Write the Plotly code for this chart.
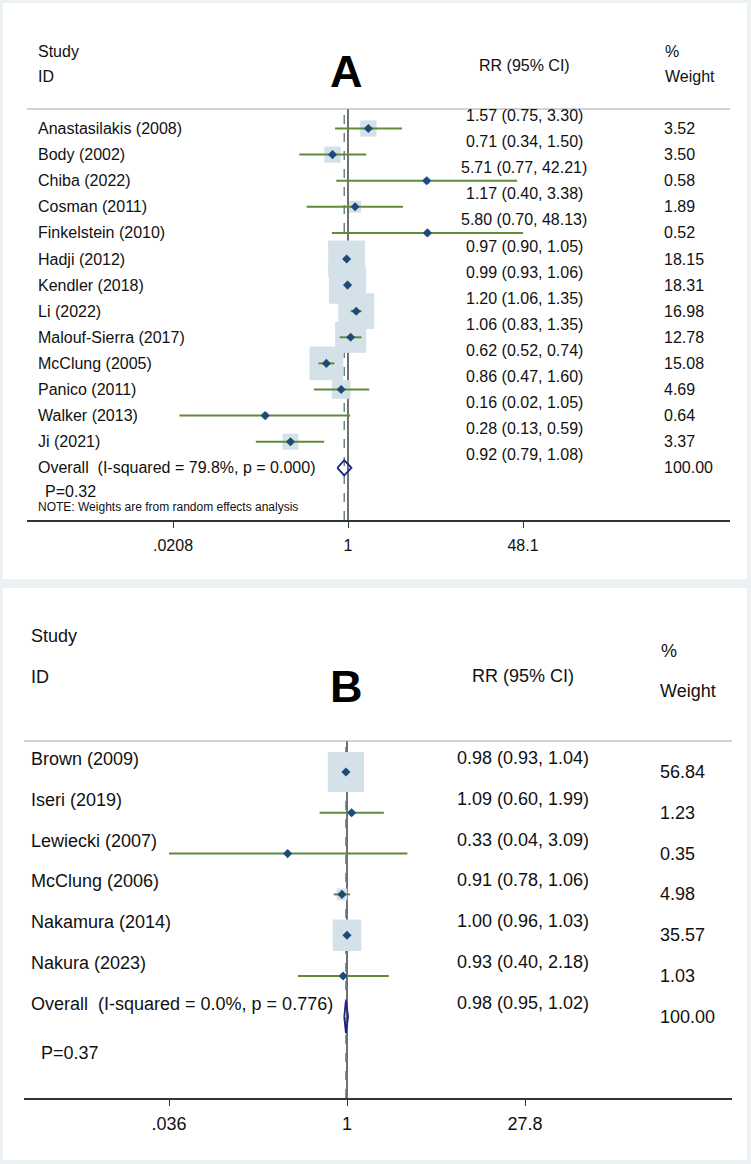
import math
import plotly.graph_objects as go

# ---------------- Data: panel A ----------------
studies_A = ["Anastasilakis (2008)", "Body (2002)", "Chiba (2022)", "Cosman (2011)",
             "Finkelstein (2010)", "Hadji (2012)", "Kendler (2018)", "Li (2022)",
             "Malouf-Sierra (2017)", "McClung (2005)", "Panico (2011)", "Walker (2013)",
             "Ji (2021)"]
rr_A = [1.57, 0.71, 5.71, 1.17, 5.80, 0.97, 0.99, 1.20, 1.06, 0.62, 0.86, 0.16, 0.28]
lo_A = [0.75, 0.34, 0.77, 0.40, 0.70, 0.90, 0.93, 1.06, 0.83, 0.52, 0.47, 0.024, 0.13]
hi_A = [3.30, 1.50, 42.21, 3.38, 48.13, 1.05, 1.06, 1.35, 1.35, 0.74, 1.60, 1.05, 0.59]
w_A = [3.52, 3.50, 0.58, 1.89, 0.52, 18.15, 18.31, 16.98, 12.78, 15.08, 4.69, 0.64, 3.37]
overall_label_A = "Overall  (I-squared = 79.8%, p = 0.000)"
overall_A = [0.92, 0.79, 1.08]
overall_w_A = 100.00
p_text_A = "P=0.32"
note_A = "NOTE: Weights are from random effects analysis"
tickvals_A = [0.0208, 1, 48.1]
ticktext_A = [".0208", "1", "48.1"]

# ---------------- Data: panel B ----------------
studies_B = ["Brown (2009)", "Iseri (2019)", "Lewiecki (2007)", "McClung (2006)",
             "Nakamura (2014)", "Nakura (2023)"]
rr_B = [0.98, 1.09, 0.33, 0.91, 1.00, 0.93]
lo_B = [0.93, 0.60, 0.036, 0.78, 0.96, 0.40]
hi_B = [1.04, 1.99, 3.09, 1.06, 1.03, 2.18]
w_B = [56.84, 1.23, 0.35, 4.98, 35.57, 1.03]
overall_label_B = "Overall  (I-squared = 0.0%, p = 0.776)"
overall_B = [0.98, 0.95, 1.02]
overall_w_B = 100.00
p_text_B = "P=0.37"
tickvals_B = [0.036, 1, 27.8]
ticktext_B = [".036", "1", "27.8"]

# ---------------- Styling / layout constants ----------------
W, H = 751, 1164
FONT = "Arial, Liberation Sans, sans-serif"
BOX_COLOR = "#d5e1e8"
PT_COLOR = "#1d4a78"
CI_COLOR = "#5e8c3a"
DIA_COLOR = "#1a237e"
DASH_COLOR = "#587e84"
BG = "#ecf2f4"


def px(x):
    return x / W


def py(y):
    return 1 - y / H


fig = go.Figure()
shapes = []
annotations = []

# panel backgrounds
shapes.append(dict(type="rect", xref="paper", yref="paper", x0=px(3), x1=px(747),
                   y0=py(579), y1=py(3), fillcolor="white", line=dict(width=0), layer="below"))
shapes.append(dict(type="rect", xref="paper", yref="paper", x0=px(3), x1=px(747),
                   y0=py(1160), y1=py(588), fillcolor="white", line=dict(width=0), layer="below"))


def build_panel(idx, studies, rr, lo, hi, w, ov, ov_w, ov_label, tickvals, ticktext,
                geom):
    xa = "x" if idx == 1 else "x2"
    ya = "y" if idx == 1 else "y2"
    fs = geom["fs"]
    n = len(studies)
    # pixels per log10 unit of the x axis
    ppl = (geom["px_one"] - geom["px_tlo"]) / (-math.log10(tickvals[0]))

    # null line at 1 and dashed overall line (data units)
    shapes.append(dict(type="line", xref=xa, yref=ya + " domain", x0=1, x1=1, y0=0, y1=1,
                       line=dict(color="#111111", width=1.2), layer="below"))
    shapes.append(dict(type="line", xref=xa, yref=ya + " domain",
                       x0=ov[0], x1=ov[0], y0=0, y1=1,
                       line=dict(color=DASH_COLOR, width=1.4, dash="dash"), layer="below"))
    # weight boxes: side proportional to sqrt(weight)
    for i in range(n):
        hw = geom["bw"] * math.sqrt(w[i]) / 2 / ppl
        hh = geom["bh"] * math.sqrt(w[i]) / 2
        shapes.append(dict(type="rect", xref=xa, yref=ya, ysizemode="pixel", yanchor=i,
                           x0=rr[i] * 10 ** (-hw), x1=rr[i] * 10 ** hw, y0=-hh, y1=hh,
                           fillcolor=BOX_COLOR, line=dict(width=0), layer="below"))
    # CI lines
    cx, cy = [], []
    for i in range(n):
        cx += [lo[i], hi[i], None]
        cy += [i, i, None]
    fig.add_trace(go.Scatter(x=cx, y=cy, mode="lines", xaxis=xa, yaxis=ya,
                             line=dict(color=CI_COLOR, width=2), hoverinfo="skip",
                             showlegend=False))
    # point estimates
    fig.add_trace(go.Scatter(x=rr, y=list(range(n)), mode="markers", xaxis=xa, yaxis=ya,
                             marker=dict(symbol="diamond", size=7, color=PT_COLOR),
                             showlegend=False))
    # overall diamond
    dh = geom["dh"]
    fig.add_trace(go.Scatter(x=[ov[1], ov[0], ov[2], ov[0], ov[1]],
                             y=[n, n - dh, n, n + dh, n], mode="lines", xaxis=xa, yaxis=ya,
                             line=dict(color=DIA_COLOR, width=1.8), showlegend=False))

    # text columns
    labels = studies + [ov_label]
    rr_txt = [f"{rr[i]:.2f} ({lo[i]:.2f}, {hi[i]:.2f})" for i in range(n)]
    rr_txt.append(f"{ov[0]:.2f} ({ov[1]:.2f}, {ov[2]:.2f})")
    w_txt = [f"{v:.2f}" for v in w] + [f"{ov_w:.2f}"]
    for i in range(n + 1):
        annotations.append(dict(xref="paper", yref=ya, x=px(geom["lab_x"]), y=i,
                                text=labels[i], showarrow=False, xanchor="left",
                                yanchor="middle", yshift=geom["lab_shift"],
                                font=dict(size=fs, color="#111111", family=FONT)))
        annotations.append(dict(xref="paper", yref=ya, x=px(geom["rr_x"]), y=i,
                                text=rr_txt[i], showarrow=False, xanchor="center",
                                yanchor="middle", yshift=geom["rr_shift"],
                                font=dict(size=fs, color="#111111", family=FONT)))
        annotations.append(dict(xref="paper", yref=ya, x=px(geom["w_x"]), y=i,
                                text=w_txt[i], showarrow=False, xanchor="left",
                                yanchor="middle",
                                font=dict(size=fs, color="#111111", family=FONT)))

    # header line
    shapes.append(dict(type="line", xref="paper", yref="paper", x0=px(geom["x_left"]),
                       x1=px(geom["x_right"]), y0=py(geom["top"]), y1=py(geom["top"]),
                       line=dict(color="#a8a8a8", width=1.2), layer="above"))

    # axes
    xr = [-(geom["px_one"] - geom["x_left"]) / ppl, (geom["x_right"] - geom["px_one"]) / ppl]
    yr = [(geom["bottom"] - geom["row0"]) / geom["step"], (geom["top"] - geom["row0"]) / geom["step"]]
    xaxis = dict(type="log", range=xr, domain=[px(geom["x_left"]), px(geom["x_right"])],
                 anchor=ya, showgrid=False, zeroline=False, showline=True,
                 linecolor="#333333", linewidth=1.5, ticks="outside", ticklen=6,
                 tickwidth=1.2, tickcolor="#333333", tickmode="array", tickvals=tickvals,
                 ticktext=ticktext, ticklabelstandoff=geom["standoff"],
                 tickfont=dict(size=fs, color="#111111", family=FONT), fixedrange=True)
    yaxis = dict(range=yr, domain=[py(geom["bottom"]), py(geom["top"])], anchor=xa,
                 visible=False, fixedrange=True)
    return xaxis, yaxis


geomA = dict(fs=16, bw=8.68, bh=8.68, dh=0.29, lab_x=36, lab_shift=0, rr_x=524, rr_shift=13,
             w_x=662, x_left=27, x_right=730, top=109, bottom=520, row0=128.5, step=26.1,
             px_one=348, px_tlo=173, standoff=4)
geomB = dict(fs=18, bw=4.8, bh=5.3, dh=0.40, lab_x=29, lab_shift=13, rr_x=523, rr_shift=14,
             w_x=658, x_left=24, x_right=732, top=741, bottom=1098, row0=772, step=40.8,
             px_one=347, px_tlo=169, standoff=3)

xA, yA = build_panel(1, studies_A, rr_A, lo_A, hi_A, w_A, overall_A, overall_w_A,
                     overall_label_A, tickvals_A, ticktext_A, geomA)
xB, yB = build_panel(2, studies_B, rr_B, lo_B, hi_B, w_B, overall_B, overall_w_B,
                     overall_label_B, tickvals_B, ticktext_B, geomB)


def head(text, x, y, size, anchor="left", bold=False):
    annotations.append(dict(xref="paper", yref="paper", x=px(x), y=py(y),
                            text=f"<b>{text}</b>" if bold else text, showarrow=False,
                            xanchor=anchor, yanchor="middle",
                            font=dict(size=size, color="#000000" if bold else "#111111",
                                      family=FONT)))


# panel A headers
head("Study", 36, 52, 16)
head("ID", 36, 77, 16)
head("A", 346, 71, 45, "center", True)
head("RR (95% CI)", 524, 65, 16, "center")
head("%", 663, 52, 16)
head("Weight", 663, 77, 16)
head(p_text_A, 43, 491, 16)
head(note_A, 36, 507, 12)

# panel B headers
head("Study", 29, 636, 18)
head("ID", 29, 677, 18)
head("B", 346, 686, 45, "center", True)
head("RR (95% CI)", 523, 676, 18, "center")
head("%", 659, 651, 18)
head("Weight", 658, 691, 18)
head(p_text_B, 39, 1053, 18)

fig.update_layout(
    width=W, height=H, margin=dict(l=0, r=0, t=0, b=0),
    paper_bgcolor=BG, plot_bgcolor="rgba(0,0,0,0)",
    xaxis=xA, yaxis=yA, xaxis2=xB, yaxis2=yB,
    shapes=shapes, annotations=annotations, showlegend=False,
    font=dict(family=FONT),
)

fig.write_html("out.html", config={"displayModeBar": False},
               post_script="document.body.style.margin='0';")
